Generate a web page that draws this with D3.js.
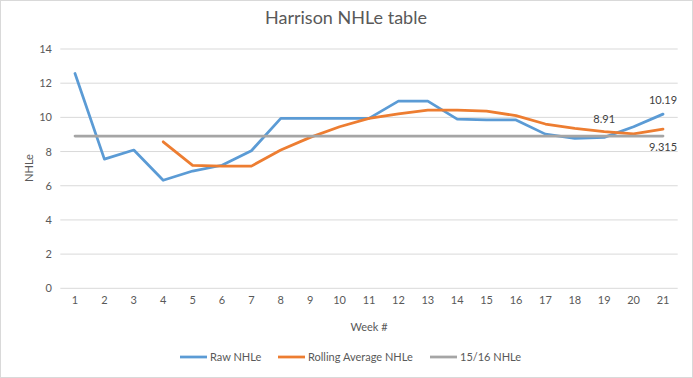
<!DOCTYPE html>
<html><head><meta charset="utf-8">
<script src="https://cdnjs.cloudflare.com/ajax/libs/d3/7.8.5/d3.min.js"></script>
<style>body{margin:0;background:#fff}text{font-family:Lato,"Open Sans",sans-serif;fill:#595959}</style>
</head><body><svg id="c" width="693" height="378"></svg>
<script>
const weeks = d3.range(1, 22);
const rawNHLe = [12.57,7.56,8.09,6.32,6.86,7.2,8.05,9.94,9.94,9.94,9.94,10.95,10.95,9.9,9.85,9.85,9.02,8.77,8.83,9.45,10.19];
const rollingNHLe = [null,null,null,8.57,7.19,7.15,7.15,8.09,8.83,9.45,9.94,10.2,10.43,10.43,10.36,10.1,9.61,9.36,9.16,9.04,9.315];
const prevNHLe = weeks.map(() => 8.91);
const yTicks = [0,2,4,6,8,10,12,14];
const seriesNames = ["Raw NHLe","Rolling Average NHLe","15/16 NHLe"];
const colors = ["#5B9BD5","#ED7D31","#A5A5A5"];

const svg = d3.select("#c");
svg.append("rect").attr("x",0.5).attr("y",0.5).attr("width",692).attr("height",377).attr("fill","#fff").attr("stroke","#D9D9D9");

const x = d3.scaleBand().domain(weeks).range([60.3,677.7]);
const y = d3.scaleLinear().domain([0,14]).range([288.3,49]);
const cx = d => x(d) + x.bandwidth()/2;

svg.append("g").selectAll("line").data(yTicks).join("line")
  .attr("x1",60.3).attr("x2",677.7).attr("y1",d=>y(d)).attr("y2",d=>y(d))
  .attr("stroke","#D9D9D9").attr("stroke-width",1);

const ya = svg.append("g").attr("transform","translate(60,0)")
  .call(d3.axisLeft(y).tickValues(yTicks).tickSize(0).tickPadding(8));
ya.select(".domain").remove();
ya.selectAll("text").style("font-size","11px").style("fill","#595959").style("font-family","Lato,sans-serif");

const xa = svg.append("g").attr("transform","translate(0,288.3)")
  .call(d3.axisBottom(x).tickSize(0).tickPadding(8));
xa.select(".domain").remove();
xa.selectAll("text").style("font-size","11px").style("fill","#595959").style("font-family","Lato,sans-serif");

svg.append("text").attr("x",346).attr("y",24).attr("text-anchor","middle").style("font-size","18px").text("Harrison NHLe table");
svg.append("text").attr("x",369).attr("y",331).attr("text-anchor","middle").style("font-size","11px").text("Week #");
svg.append("text").attr("transform","translate(33,168) rotate(-90)").attr("text-anchor","middle").style("font-size","11px").text("NHLe");

const data = [rawNHLe, rollingNHLe, prevNHLe];
data.forEach((arr,i) => {
  const line = d3.line().defined(d=>d[1]!=null).x(d=>cx(d[0])).y(d=>y(d[1]));
  const pts = weeks.map((w,j)=>[w,arr[j]]);
  svg.append("path").datum(pts).attr("d",line).attr("fill","none")
    .attr("stroke",colors[i]).attr("stroke-width",2.75).attr("stroke-linejoin","round").attr("stroke-linecap","round");
});

svg.append("text").attr("x",cx(21)).attr("y",y(10.19)-10).attr("text-anchor","middle").style("font-size","11px").style("fill","#404040").text("10.19");
svg.append("text").attr("x",cx(19)).attr("y",y(8.91)-13).attr("text-anchor","middle").style("font-size","11px").style("fill","#404040").text("8.91");
svg.append("text").attr("x",cx(21)).attr("y",y(9.315)+22).attr("text-anchor","middle").style("font-size","11px").style("fill","#404040").text("9.315");

const lx = [180,278,430];
seriesNames.forEach((n,i)=>{
  svg.append("line").attr("x1",lx[i]).attr("x2",lx[i]+27).attr("y1",357).attr("y2",357).attr("stroke",colors[i]).attr("stroke-width",2.75);
  svg.append("text").attr("x",lx[i]+30).attr("y",361).style("font-size","11px").text(n);
});
</script></body></html>
